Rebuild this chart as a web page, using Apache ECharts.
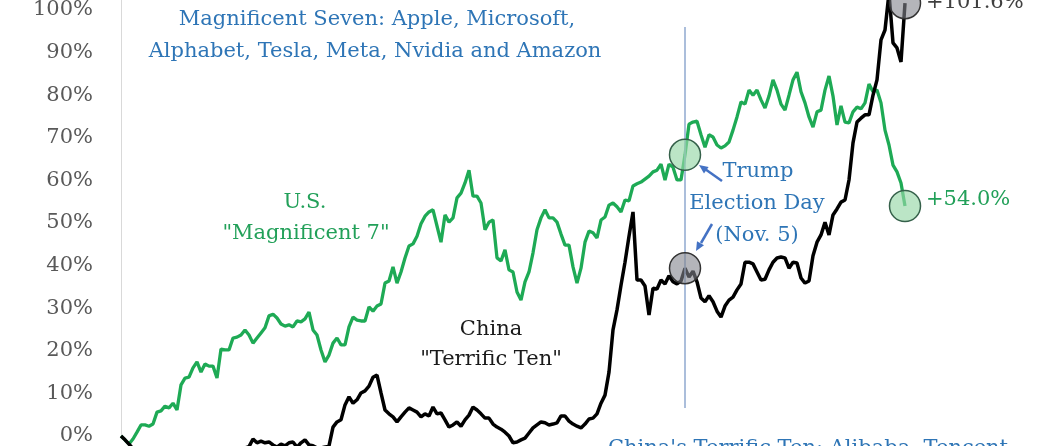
<!DOCTYPE html>
<html><head><meta charset="utf-8">
<script src="https://cdn.jsdelivr.net/npm/echarts@6/dist/echarts.min.js"></script>
<style>html,body{margin:0;padding:0;background:#fff}#c{width:1047px;height:446px}</style>
</head><body><div id="c"></div>
<script>
// U.S. "Magnificent 7" cumulative return (%)
const usMag7 = [
 0.0,-0.9,-1.9,-0.7,0.9,2.6,2.6,2.3,2.8,5.6,
 5.9,7.0,6.6,7.7,6.1,12.0,13.6,13.8,16.0,17.4,
 15.0,16.9,16.4,16.4,13.6,20.4,20.2,20.2,23.0,23.2,
 23.7,24.9,23.7,21.8,23.0,24.2,25.4,28.2,28.6,27.7,
 26.3,25.8,26.1,25.6,27.0,26.8,27.5,29.1,24.9,23.7,
 20.2,17.4,19.0,21.8,23.0,21.4,21.4,25.6,27.9,27.2,
 27.0,27.0,30.3,29.3,30.5,31.0,35.9,36.4,39.7,35.9,
 38.5,41.8,44.6,45.1,46.9,49.8,51.6,52.6,53.1,49.3,
 45.5,51.9,50.2,51.2,55.9,57.0,59.4,62.4,56.3,56.3,
 54.7,48.4,50.2,50.7,41.8,41.1,43.7,39.0,38.5,33.8,
 31.9,36.2,38.5,43.0,48.4,51.2,53.1,51.2,51.2,50.2,
 47.4,44.8,44.8,39.7,35.9,39.4,45.5,48.1,47.7,46.5,
 50.7,51.4,54.2,54.7,53.8,52.6,55.4,55.2,58.7,59.2,
 59.6,60.3,61.0,62.0,62.4,63.8,60.1,63.8,63.1,60.1,
 60.1,66.0,73.2,73.7,73.9,70.7,67.8,70.7,70.2,68.3,
 67.6,68.1,69.0,71.8,74.9,78.4,77.9,81.2,80.0,81.2,
 78.9,77.0,79.8,83.6,81.2,77.9,76.5,80.0,83.6,85.4,
 80.8,78.2,74.9,72.5,76.1,76.5,81.2,84.5,79.8,73.0,
 77.5,73.7,73.5,76.1,77.2,76.8,78.2,82.6,80.8,81.2,
 78.2,71.8,68.3,63.6,62.0,59.4,54.0
];
// China "Terrific Ten" cumulative return (%)
const chinaTen = [
 0.0,-0.9,-1.9,-3.0,-3.5,-4.2,-3.8,-4.5,-5.0,-4.6,
 -5.2,-4.8,-4.3,-5.1,-5.6,-5.0,-4.4,-4.9,-5.3,-4.7,
 -4.1,-4.6,-4.0,-3.6,-4.2,-3.9,-3.3,-3.7,-3.1,-2.9,
 -3.4,-2.8,-2.5,-0.7,-1.6,-1.2,-1.6,-1.4,-2.1,-2.6,
 -1.9,-2.3,-1.6,-1.4,-2.6,-1.6,-0.9,-2.1,-2.3,-2.8,
 -2.8,-2.6,-2.3,2.1,3.3,3.8,7.3,9.2,7.7,8.5,
 10.1,10.6,11.7,13.8,14.3,10.1,6.1,5.2,4.5,3.3,
 4.5,5.6,6.6,6.1,5.6,4.5,5.2,4.7,6.8,5.2,
 5.4,3.8,2.1,2.6,3.3,2.3,3.8,4.9,6.8,6.1,
 5.2,4.2,4.2,2.8,2.1,1.6,0.9,0.0,-1.6,-1.4,
 -0.9,-0.5,0.7,1.9,2.6,3.3,3.1,2.6,2.8,3.1,
 4.7,4.7,3.5,2.8,2.3,1.9,2.8,4.0,4.2,5.2,
 7.7,9.6,15.0,24.9,29.6,35.4,40.8,46.9,52.6,36.6,
 36.6,35.2,28.4,34.7,34.5,36.6,35.7,37.6,36.2,35.7,
 36.4,39.4,37.3,38.7,36.2,32.4,31.5,32.9,31.5,29.3,
 27.9,30.5,31.9,32.6,34.3,35.7,40.8,40.8,40.4,38.5,
 36.6,36.8,39.0,40.8,41.8,42.0,41.8,39.4,40.8,40.6,
 37.1,35.9,36.4,42.3,45.5,47.2,50.2,47.2,51.9,53.3,
 54.9,55.4,60.1,68.8,73.7,74.6,75.4,75.4,80.0,83.6,
 93.0,95.3,104.0,92.3,91.1,87.8,101.6
];
const periods = usMag7.map((_, i) => i);
const electionIdx = 141;
const lastIdx = usMag7.length - 1;
const yMin = 0, yMax = 110, yStep = 10;

const SERIF = '"DejaVu Serif", "Liberation Serif", serif';
const GREEN = '#1eaa55', GREEN_TXT = '#22a059', BLUE = '#2e75b6', ARROW = '#4472c4';

function txt(text, x, y, color, align) {
  return { type: 'text', silent: true, z: 50,
    style: { text: text, x: x, y: y, fill: color, font: '21px ' + SERIF,
      align: align || 'center', verticalAlign: 'middle',
      textAlign: align || 'center', textVerticalAlign: 'middle' } };
}
function arrow(x1, y1, x2, y2, tip, b1, b2) {
  return [
    { type: 'line', silent: true, z: 50, shape: { x1: x1, y1: y1, x2: x2, y2: y2 },
      style: { stroke: ARROW, lineWidth: 2.5 } },
    { type: 'polygon', silent: true, z: 50, shape: { points: [tip, b1, b2] },
      style: { fill: ARROW } }
  ];
}

const chart = echarts.init(document.getElementById('c'));
chart.setOption({
  animation: false,
  backgroundColor: '#fff',
  grid: { left: 121, right: 142, top: -32.6, bottom: 10, containLabel: false, outerBoundsMode: 'none' },
  xAxis: { type: 'category', data: periods, boundaryGap: false, show: false },
  yAxis: {
    type: 'value', min: yMin, max: yMax, interval: yStep,
    axisLine: { show: true, lineStyle: { color: '#d9d9d9', width: 1 } },
    axisTick: { show: false }, splitLine: { show: false },
    axisLabel: { color: '#595959', fontFamily: SERIF, fontSize: 21, margin: 28,
      formatter: v => v > 100 ? '' : v + '%' }
  },
  series: [
    { type: 'line', name: 'U.S. Magnificent 7', data: usMag7, symbol: 'none', clip: false,
      lineStyle: { color: GREEN, width: 3.3 }, z: 2,
      markLine: { silent: true, symbol: 'none', animation: false,
        lineStyle: { color: '#8fa8cf', width: 1.5, type: 'solid' }, label: { show: false },
        data: [[{ coord: [electionIdx, 96.0] }, { coord: [electionIdx, 6.6] }]] },
      markPoint: { silent: true, symbol: 'circle', symbolSize: 31, label: { show: false },
        itemStyle: { color: 'rgba(150,215,168,0.65)', borderColor: '#35604a', borderWidth: 1.5 },
        data: [{ coord: [electionIdx, usMag7[electionIdx]] }, { coord: [lastIdx, usMag7[lastIdx]] }] }
    },
    { type: 'line', name: 'China Terrific Ten', data: chinaTen, symbol: 'none', clip: false,
      lineStyle: { color: '#000', width: 3.5 }, z: 3,
      markPoint: { silent: true, symbol: 'circle', symbolSize: 31, label: { show: false },
        itemStyle: { color: 'rgba(130,132,140,0.6)', borderColor: '#333', borderWidth: 1.5 },
        data: [{ coord: [electionIdx, chinaTen[electionIdx]] }, { coord: [lastIdx, chinaTen[lastIdx]] }] }
    }
  ],
  graphic: [
    txt('Magnificent Seven: Apple, Microsoft,', 377, 20, BLUE),
    txt('Alphabet, Tesla, Meta, Nvidia and Amazon', 375, 52, BLUE),
    txt('U.S.', 305, 203, GREEN_TXT),
    txt('"Magnificent 7"', 306, 234, GREEN_TXT),
    txt('China', 491, 330, '#1a1a1a'),
    txt('"Terrific Ten"', 491, 360, '#1a1a1a'),
    txt('Trump', 758, 172, BLUE),
    txt('Election Day', 757, 204, BLUE),
    txt('(Nov. 5)', 757, 236, BLUE),
    txt('+101.6%', 926, 3, '#404040', 'left'),
    txt('+54.0%', 926, 200, GREEN_TXT, 'left'),
    txt("China's Terrific Ten: Alibaba, Tencent", 608, 449, BLUE, 'left'),
    ...arrow(722, 181, 705, 169, [699, 165], [708.6, 166.9], [704.0, 173.5]),
    ...arrow(712, 224, 701, 243, [696, 251], [704, 245.2], [697, 241.2])
  ]
});
</script>
</body></html>
